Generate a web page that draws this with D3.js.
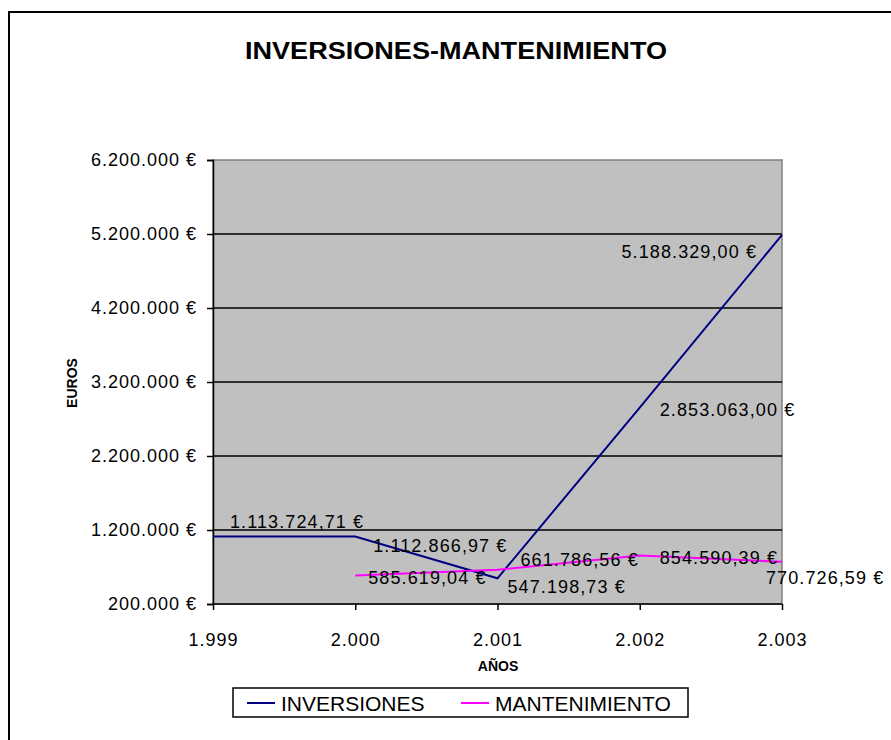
<!DOCTYPE html>
<meta charset="utf-8">
<head>
<script src="https://d3js.org/d3.v7.min.js"></script>
<style>
  body { margin: 0; background: #fff; }
  svg text { font-family: "Liberation Sans", Arial, sans-serif; fill: #000; }
</style>
</head>
<body>
<script>
    // chart data
    years = ["1.999", "2.000", "2.001", "2.002", "2.003"]
    inversiones = [1113724.71, 1112866.97, 547198.73, 2853063.00, 5188329.00]
    mantenimiento = [null, 585619.04, 661786.56, 854590.39, 770726.59]
    yTicks = [200000, 1200000, 2200000, 3200000, 4200000, 5200000, 6200000]

    width = 891
    height = 740
    plot = ({left: 213, right: 782, top: 160, bottom: 604})

    // label placement, Excel puts them a bit everywhere
    invShift = [[17, -15, "start"], [18, 9, "start"], [10, 8, "start"], [20, 2, "start"], [-25, 17, "end"]]
    manShift = [null, [13, 2, "start"], [23, -10, "start"], [20, 2, "start"], [-16, 16, "start"]]

    es = d3.formatLocale({decimal: ",", thousands: ".", grouping: [3], currency: ["", " €"]})
    fmtTick = d => es.format(",.0f")(d) + " €"
    fmtVal = d => es.format(",.2f")(d) + " €"

    x = d3.scalePoint()
      .domain(years)
      .range([plot.left, plot.right])

    y = d3.scaleLinear()
      .domain([200000, 6200000])
      .range([plot.bottom, plot.top])

    var svg = d3.select("body").append("svg")
      .attr("width", width)
      .attr("height", height)
      .attr("viewBox", [0, 0, width, height])

    // outer frame of the chart
    svg.append("rect")
      .attr("x", 9).attr("y", 12)
      .attr("width", 900).attr("height", 760)
      .attr("fill", "#fff")
      .attr("stroke", "#000")
      .attr("stroke-width", 2)

    svg.append("text")
      .attr("x", 245)
      .attr("y", 59)
      .attr("font-size", 23)
      .attr("font-weight", "bold")
      .attr("textLength", 422)
      .attr("lengthAdjust", "spacingAndGlyphs")
      .text("INVERSIONES-MANTENIMIENTO")

    // plot area
    svg.append("rect")
      .attr("x", plot.left).attr("y", plot.top)
      .attr("width", plot.right - plot.left)
      .attr("height", plot.bottom - plot.top)
      .attr("fill", "#c0c0c0")
      .attr("stroke", "#808080")
      .attr("stroke-width", 1.5)

    svg.append("g")
      .selectAll("line")
      .data(yTicks.slice(1, -1))
      .join("line")
        .attr("x1", plot.left)
        .attr("x2", plot.right)
        .attr("y1", d => y(d))
        .attr("y2", d => y(d))
        .attr("stroke", "#000")
        .attr("stroke-width", 1.5)

    yAxis = g => g
      .attr("transform", `translate(${plot.left},0)`)
      .call(d3.axisLeft(y).tickValues(yTicks).tickFormat(fmtTick).tickSize(6).tickPadding(10))
      .call(g => g.selectAll("path, line").attr("stroke", "#000").attr("stroke-width", 1.5))
      .call(g => g.selectAll("text")
        .attr("font-size", 18)
        .attr("letter-spacing", 1)
        .attr("font-family", null))

    xAxis = g => g
      .attr("transform", `translate(0,${plot.bottom})`)
      .call(d3.axisBottom(x).tickSize(6).tickPadding(23))
      .call(g => g.selectAll("path, line").attr("stroke", "#000").attr("stroke-width", 1.5))
      .call(g => g.select(".domain").attr("d", `M${plot.left},0H${plot.right}`))
      .call(g => g.selectAll("text")
        .attr("font-size", 18)
        .attr("letter-spacing", 1)
        .attr("font-family", null))

    svg.append("g").call(yAxis)
    svg.append("g").call(xAxis)

    svg.append("text")
      .attr("transform", "translate(77,383) rotate(-90)")
      .attr("text-anchor", "middle")
      .attr("font-size", 14)
      .attr("font-weight", "bold")
      .text("EUROS")

    svg.append("text")
      .attr("x", 498)
      .attr("y", 671)
      .attr("text-anchor", "middle")
      .attr("font-size", 14)
      .attr("font-weight", "bold")
      .text("AÑOS")

    series = [
      {name: "INVERSIONES", values: inversiones, color: "#000080", shift: invShift},
      {name: "MANTENIMIENTO", values: mantenimiento, color: "#ff00ff", shift: manShift}
    ]

    line = d3.line()
      .defined(d => d.v != null)
      .x(d => x(d.year))
      .y(d => y(d.v))

    series.forEach(s => {
      var pts = years.map((yr, i) => ({year: yr, v: s.values[i], i: i}))
      svg.append("path")
        .datum(pts)
        .attr("fill", "none")
        .attr("stroke", s.color)
        .attr("stroke-width", 2)
        .attr("d", line)

      svg.append("g")
        .selectAll("text")
        .data(pts.filter(d => d.v != null))
        .join("text")
          .attr("x", d => x(d.year) + s.shift[d.i][0])
          .attr("y", d => y(d.v) + s.shift[d.i][1])
          .attr("dy", "0.35em")
          .attr("text-anchor", d => s.shift[d.i][2])
          .attr("font-size", 18)
          .attr("letter-spacing", 1.1)
          .text(d => fmtVal(d.v))
    })

    // legend
    var legend = svg.append("g")
    legend.append("rect")
      .attr("x", 233).attr("y", 688)
      .attr("width", 455).attr("height", 29)
      .attr("fill", "#fff")
      .attr("stroke", "#000")
      .attr("stroke-width", 1.5)

    var item = legend.selectAll("g")
      .data(series)
      .join("g")
        .attr("transform", (d, i) => `translate(${i == 0 ? 247 : 461},703)`)
    item.append("line")
      .attr("x1", 0).attr("x2", 28)
      .attr("stroke", d => d.color)
      .attr("stroke-width", 2)
    item.append("text")
      .attr("x", 34)
      .attr("y", 8)
      .attr("font-size", 21)
      .text(d => d.name)
</script>
</body>
